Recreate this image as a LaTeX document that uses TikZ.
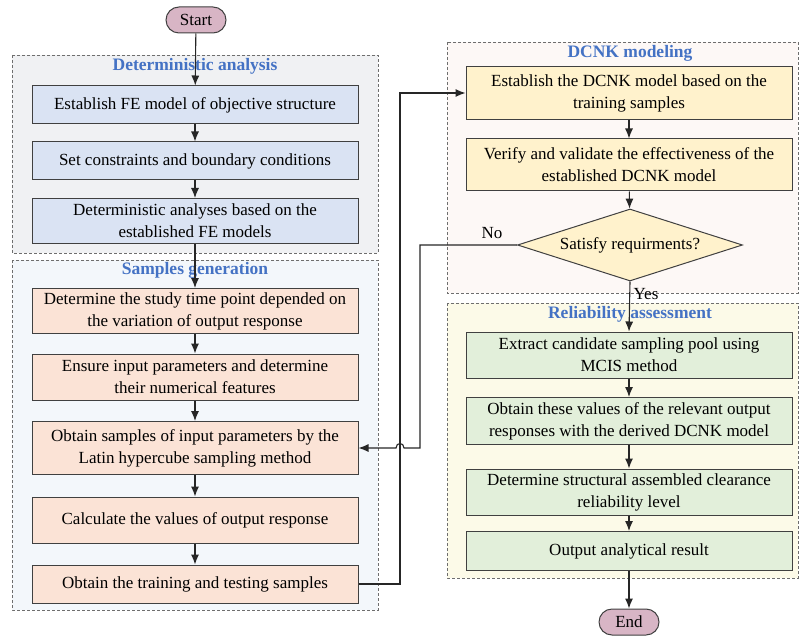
\documentclass[tikz,border=0pt]{standalone}
\usepackage{fontspec}
\setmainfont{Liberation Serif}
\usetikzlibrary{shapes.geometric,arrows.meta}

\definecolor{titleblue}{HTML}{4472C4}
\definecolor{framegray}{HTML}{6E6E6E}
\definecolor{detback}{HTML}{F0F1F3}
\definecolor{smpback}{HTML}{F3F7FB}
\definecolor{dcnkback}{HTML}{FDF8F6}
\definecolor{relback}{HTML}{FCFAE8}
\definecolor{detfill}{HTML}{DAE3F3}
\definecolor{smpfill}{HTML}{FBE3D6}
\definecolor{dcnkfill}{HTML}{FFF2CC}
\definecolor{relfill}{HTML}{E2EFDA}
\definecolor{termfill}{HTML}{D8B5C5}

\tikzstyle{panel} = [draw=framegray, line width=0.8pt, dash pattern=on 3pt off 2pt]
\tikzstyle{paneltitle} = [text=titleblue, font=\fontsize{17.5}{20}\selectfont\bfseries]
\tikzstyle{stepbox} = [draw=black!75, line width=1pt, rectangle, minimum width=326pt,
    align=center, inner sep=2pt, font=\fontsize{17}{22}\selectfont]
\tikzstyle{termbox} = [draw=black!75, line width=1pt, fill=termfill, rectangle,
    rounded corners=13pt, minimum width=60pt, minimum height=26pt, inner sep=1pt,
    font=\fontsize{17}{20}\selectfont]
\tikzstyle{decbox} = [draw=black!75, line width=1pt, fill=dcnkfill, diamond, aspect=3.1,
    inner sep=1pt, minimum width=225pt, minimum height=72pt,
    font=\fontsize{17}{20}\selectfont]
\tikzstyle{flow} = [line width=1.1pt, draw=black!85, -{Latex[length=10pt,width=8pt]}]

\begin{document}
\begin{tikzpicture}[x=1pt, y=-1pt]
\useasboundingbox (0,0) rectangle (799,636);

%------------ Panels ---------------------
\draw[panel, fill=detback] (12,55) rectangle (378,253);
\draw[panel, fill=smpback] (12,260) rectangle (378,610);
\draw[panel, fill=dcnkback] (447,42) rectangle (798,293);
\draw[panel, fill=relback] (447,303) rectangle (798,578);

\node[paneltitle] (dettitle) at (195,66) {Deterministic analysis};
\node[paneltitle] (smptitle) at (195,270) {Samples generation};
\node[paneltitle] (dcnktitle) at (630,53) {DCNK modeling};
\node[paneltitle] (reltitle) at (630,314) {Reliability assessment};

%------------ Left column ---------------------
\node[termbox] (start) at (196,20) {Start};

\node[stepbox, fill=detfill, minimum height=38pt] (det1) at (195,105)
    {Establish FE model of objective structure};
\node[stepbox, fill=detfill, minimum height=38pt] (det2) at (195,161)
    {Set constraints and boundary conditions};
\node[stepbox, fill=detfill, minimum height=45pt] (det3) at (195,221)
    {Deterministic analyses based on the\\established FE models};

\node[stepbox, fill=smpfill, minimum height=45pt] (smp1) at (195,311)
    {Determine the study time point depended on\\the variation of output response};
\node[stepbox, fill=smpfill, minimum height=46pt] (smp2) at (195,377)
    {Ensure input parameters and determine\\their numerical features};
\node[stepbox, fill=smpfill, minimum height=53pt] (smp3) at (195,448)
    {Obtain samples of input parameters by the\\Latin hypercube sampling method};
\node[stepbox, fill=smpfill, minimum height=46pt] (smp4) at (195,520)
    {Calculate the values of output response};
\node[stepbox, fill=smpfill, minimum height=38pt] (smp5) at (195,584)
    {Obtain the training and testing samples};

%------------ Right column ---------------------
\node[stepbox, fill=dcnkfill, minimum height=53pt] (dcnk1) at (629,93)
    {Establish the DCNK model based on the\\training samples};
\node[stepbox, fill=dcnkfill, minimum height=52pt] (dcnk2) at (629,165)
    {Verify and validate the effectiveness of the\\established DCNK model};
\node[decbox] (check) at (630,245) {Satisfy requirments?};

\node[stepbox, fill=relfill, minimum height=46pt] (rel1) at (629,355)
    {Extract candidate sampling pool using\\MCIS method};
\node[stepbox, fill=relfill, minimum height=47pt] (rel2) at (629,421)
    {Obtain these values of the relevant output\\responses with the derived DCNK model};
\node[stepbox, fill=relfill, minimum height=46pt] (rel3) at (629,492)
    {Determine structural assembled clearance\\reliability level};
\node[stepbox, fill=relfill, minimum height=39pt] (rel4) at (629,551)
    {Output analytical result};

\node[termbox] (stop) at (629,622) {End};

%------------ Connectors ---------------------
\draw[flow] (start) -- (det1);
\draw[flow] (det1) -- (det2);
\draw[flow] (det2) -- (det3);
\draw[flow] (det3) -- (smp1);
\draw[flow] (smp1) -- (smp2);
\draw[flow] (smp2) -- (smp3);
\draw[flow] (smp3) -- (smp4);
\draw[flow] (smp4) -- (smp5);

\coordinate (up1) at (400,584);
\coordinate (up2) at (400,93);
\draw[flow] (smp5.east) -- (up1) -- (up2) -- (dcnk1.west);

\draw[flow] (dcnk1) -- (dcnk2);
\draw[flow] (dcnk2) -- (check);
\draw[flow] (check.south) -- (rel1.north);
\node[font=\fontsize{17}{20}\selectfont, inner sep=0pt] (yes) at (646,294) {Yes};
\draw[flow] (rel1) -- (rel2);
\draw[flow] (rel2) -- (rel3);
\draw[flow] (rel3) -- (rel4);
\draw[flow] (rel4) -- (stop);

\coordinate (no1) at (420,245);
\coordinate (no2) at (420,448);
\coordinate (hop1) at (404,448);
\coordinate (hop2) at (396,448);
\draw[flow] (check.west) -- (no1) -- (no2) -- (hop1)
    .. controls (404,442) and (396,442) .. (hop2) -- (smp3.east);
\node[font=\fontsize{17}{20}\selectfont] (no) at (492,233) {No};
\end{tikzpicture}
\end{document}
